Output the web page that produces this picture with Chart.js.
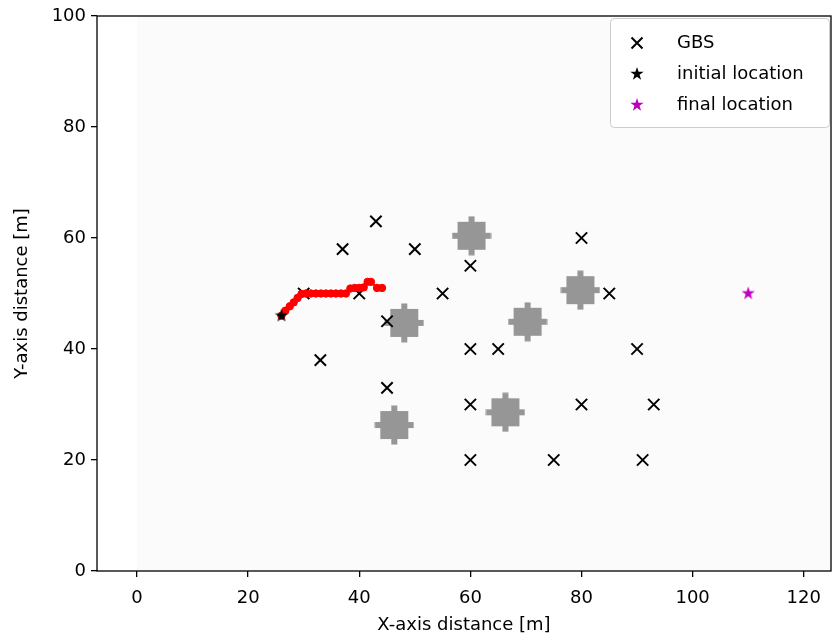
<!DOCTYPE html>
<html>
<head>
<meta charset="utf-8">
<script src="https://cdn.jsdelivr.net/npm/chart.js@4.4.1/dist/chart.umd.min.js"></script>
<style>
  html, body { margin: 0; padding: 0; background: #fff; }
  canvas { display: block; }
</style>
</head>
<body>
<canvas id="uavMap" width="832" height="637"></canvas>
<script>
// ── Data ─────────────────────────────────────────────────────
const xTicks = [0, 20, 40, 60, 80, 100, 120];
const yTicks = [0, 20, 40, 60, 80, 100];

const gbsX = [43, 37, 50, 30, 40, 55, 60, 45, 33, 45, 60, 65, 60, 60, 75, 80, 85, 90, 80, 93, 91];
const gbsY = [63, 58, 58, 50, 50, 50, 55, 45, 38, 33, 40, 40, 30, 20, 20, 60, 50, 40, 30, 30, 20];

const obstacleX = [60.2, 48.1, 79.8, 70.3, 46.3, 66.3];
const obstacleY = [60.4, 44.7, 50.6, 44.9, 26.3, 28.6];

const pathX = [26, 26.7, 27.5, 28.2, 28.9, 29.6, 30.4, 31.3, 32.2, 33.1, 34, 34.9, 35.8, 36.7, 37.6, 38.4, 39.2, 40.0, 40.8, 41.5, 42.1, 43.2, 44.1];
const pathY = [46, 46.9, 47.7, 48.4, 49.2, 49.9, 50, 50, 50, 50, 50, 50, 50, 50, 50, 50.9, 51, 51, 51.1, 52.1, 52.1, 51, 51];

const initialX = [26];
const initialY = [46];
const finalX = [110];
const finalY = [50];

const legendLabels = ['GBS', 'initial location', 'final location'];

const toPoints = (xs, ys) => xs.map((x, i) => ({ x: x, y: ys[i] }));

// ── Marker images ────────────────────────────────────────────
function makeStar(color, r) {
    const c = document.createElement('canvas');
    c.width = c.height = Math.ceil(2 * r + 2);
    const g = c.getContext('2d');
    const cx = c.width / 2, cy = c.height / 2, ri = r * 0.382;
    g.beginPath();
    for (let i = 0; i < 10; i++) {
        const a = -Math.PI / 2 + i * Math.PI / 5;
        const rr = i % 2 === 0 ? r : ri;
        g.lineTo(cx + rr * Math.cos(a), cy + rr * Math.sin(a));
    }
    g.closePath();
    g.fillStyle = color;
    g.fill();
    return c;
}

function makeBlob(color) {
    const c = document.createElement('canvas');
    c.width = c.height = 40;
    const g = c.getContext('2d');
    g.fillStyle = color;
    g.fillRect(6, 6, 28, 28);
    g.fillRect(0.5, 17, 39, 6);
    g.fillRect(17, 0.5, 6, 39);
    return c;
}

const blackStar = makeStar('#000000', 7);
const magentaStar = makeStar('#bf00bf', 7);
const blob = makeBlob('#969696');

// ── Plugins ──────────────────────────────────────────────────
const mapBackground = {
    id: 'mapBackground',
    beforeDatasetsDraw(chart) {
        const { ctx, chartArea: a, scales: { x } } = chart;
        const x0 = x.getPixelForValue(0);
        ctx.save();
        ctx.fillStyle = '#fbfbfb';
        ctx.fillRect(x0, a.top, a.right - x0, a.bottom - a.top);
        ctx.restore();
    }
};

const frameAndLegend = {
    id: 'frameAndLegend',
    afterDraw(chart) {
        const { ctx, chartArea: a } = chart;
        ctx.save();
        ctx.strokeStyle = '#000';
        ctx.lineWidth = 1.3;
        ctx.strokeRect(a.left, a.top, a.right - a.left, a.bottom - a.top);

        // legend box, top-right inside the axes
        const w = 219, h = 109;
        const bx = a.right - w - 2, by = a.top + 2;
        ctx.beginPath();
        ctx.roundRect(bx + 0.5, by + 0.5, w, h, 4);
        ctx.fillStyle = 'rgba(255,255,255,0.85)';
        ctx.fill();
        ctx.strokeStyle = '#cccccc';
        ctx.lineWidth = 1;
        ctx.stroke();

        const rows = [by + 25, by + 56, by + 87];
        const mx = bx + 27, tx = bx + 67;

        ctx.strokeStyle = '#000';
        ctx.lineWidth = 2;
        ctx.beginPath();
        ctx.moveTo(mx - 5.5, rows[0] - 5.5); ctx.lineTo(mx + 5.5, rows[0] + 5.5);
        ctx.moveTo(mx + 5.5, rows[0] - 5.5); ctx.lineTo(mx - 5.5, rows[0] + 5.5);
        ctx.stroke();
        ctx.drawImage(blackStar, mx - blackStar.width / 2, rows[1] - blackStar.height / 2);
        ctx.drawImage(magentaStar, mx - magentaStar.width / 2, rows[2] - magentaStar.height / 2);

        ctx.fillStyle = '#000';
        ctx.font = '18px "DejaVu Sans"';
        ctx.textBaseline = 'middle';
        ctx.textAlign = 'left';
        legendLabels.forEach((t, i) => ctx.fillText(t, tx, rows[i]));
        ctx.restore();
    }
};

// ── Chart ────────────────────────────────────────────────────
Chart.defaults.font.family = '"DejaVu Sans", sans-serif';
Chart.defaults.font.size = 18;
Chart.defaults.color = '#000';

new Chart(document.getElementById('uavMap'), {
    type: 'scatter',
    data: {
        datasets: [
            {
                label: 'final location', data: toPoints(finalX, finalY),
                pointStyle: magentaStar, pointRadius: 5, order: 0
            },
            {
                label: 'initial location', data: toPoints(initialX, initialY),
                pointStyle: blackStar, pointRadius: 5, order: 0
            },
            {
                label: 'path', data: toPoints(pathX, pathY),
                showLine: true, borderColor: '#ff0000', borderWidth: 2,
                pointRadius: 3.7, pointBorderWidth: 1,
                pointBackgroundColor: '#ff0000', pointBorderColor: '#ff0000', order: 1
            },
            {
                label: 'GBS', data: toPoints(gbsX, gbsY),
                pointStyle: 'crossRot', pointRadius: 8, pointBorderWidth: 2,
                pointBorderColor: '#000', order: 2
            },
            {
                label: 'obstacles', data: toPoints(obstacleX, obstacleY),
                pointStyle: blob, pointRadius: 5, order: 3
            }
        ]
    },
    options: {
        responsive: false, animation: false, devicePixelRatio: 1,
        layout: { autoPadding: false, padding: { left: 0, top: 16, right: 1, bottom: 0 } },
        plugins: { legend: { display: false }, tooltip: { enabled: false } },
        scales: {
            x: {
                type: 'linear', min: -7.2, max: 124.9,
                afterBuildTicks: s => { s.ticks = xTicks.map(v => ({ value: v })); },
                afterFit: s => { s.height = 66; s.paddingLeft = 0; s.paddingRight = 0; },
                grid: { drawOnChartArea: false, color: '#000', lineWidth: 1.3, tickLength: 6 },
                border: { display: false },
                ticks: { padding: 11, maxRotation: 0, color: '#000' },
                title: { display: true, text: 'X-axis distance [m]', padding: { top: 0, bottom: 1 }, color: '#000' }
            },
            y: {
                type: 'linear', min: 0, max: 100,
                afterBuildTicks: s => { s.ticks = yTicks.map(v => ({ value: v })); },
                afterFit: s => { s.width = 97; s.paddingTop = 0; s.paddingBottom = 0; },
                grid: { drawOnChartArea: false, color: '#000', lineWidth: 1.3, tickLength: 6 },
                border: { display: false },
                ticks: { padding: 5, color: '#000' },
                title: { display: true, text: 'Y-axis distance [m]', padding: { top: 12, bottom: 0 }, color: '#000' }
            }
        }
    },
    plugins: [mapBackground, frameAndLegend]
});
</script>
</body>
</html>
